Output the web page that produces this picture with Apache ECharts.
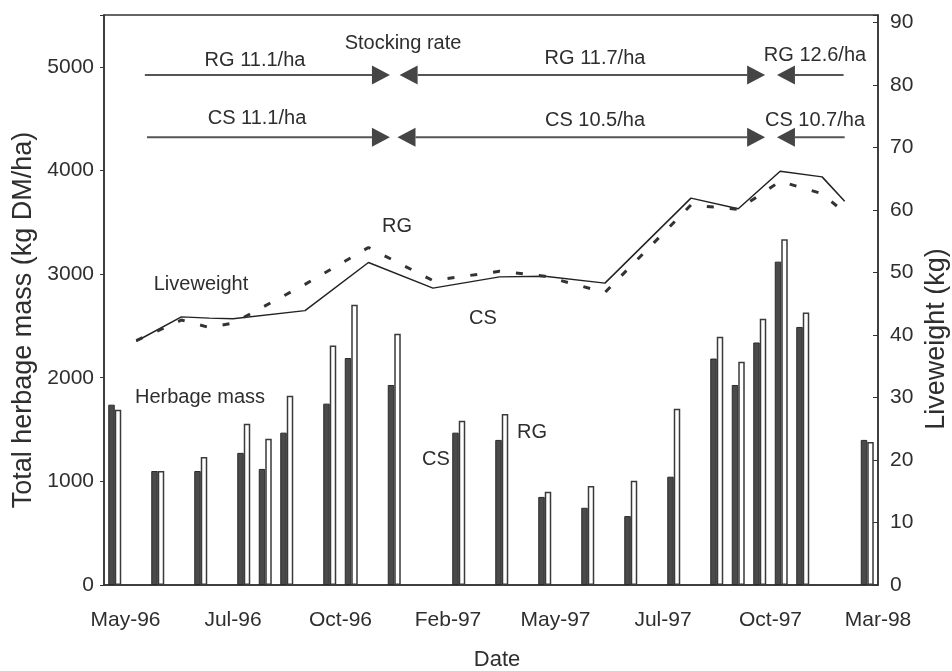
<!DOCTYPE html>
<html><head><meta charset="utf-8">
<script src="https://cdn.jsdelivr.net/npm/echarts@6/dist/echarts.min.js"></script>
<style>html,body{margin:0;padding:0;background:#fff}#c{width:952px;height:671px}</style>
</head><body><div id="c"></div>
<script>
// x positions are in "sampling slot" units (36 slots across the date axis)
const xTickPositions = [1, 6, 11, 16, 21, 26, 31, 36];
const xTickLabels = ['May-96', 'Jul-96', 'Oct-96', 'Feb-97', 'May-97', 'Jul-97', 'Oct-97', 'Mar-98'];

// Herbage mass (kg DM/ha) bars
const barSlots   = [0.5, 2.5, 4.5, 6.5, 7.5, 8.5, 10.5, 11.5, 13.5, 16.5, 18.5, 20.5, 22.5, 24.5, 26.5, 28.5, 29.5, 30.5, 31.5, 32.5, 35.5];
const herbageCS  = [1740, 1100, 1100, 1275, 1120, 1470, 1750, 2190, 1930, 1470, 1400, 850, 745, 665, 1045, 2185, 1930, 2340, 3120, 2490, 1400];
const herbageRG  = [1690, 1100, 1235, 1555, 1410, 1825, 2310, 2705, 2425, 1585, 1650, 900, 955, 1005, 1700, 2395, 2155, 2570, 3335, 2630, 1380];

// Liveweight (kg)
const lwDates      = [1.5, 3.6, 4.9, 6.0, 9.35, 12.3, 15.3, 18.4, 20.5, 23.3, 27.3, 29.5, 31.45, 33.4, 34.45];
const liveweightCS = [39.0, 42.9, 42.7, 42.6, 43.9, 51.6, 47.5, 49.3, 49.4, 48.3, 61.9, 60.2, 66.2, 65.3, 61.4];
const liveweightRG = [39.1, 42.4, 41.2, 41.9, 48.1, 54.0, 48.7, 50.2, 49.4, 46.8, 60.8, 60.1, 64.6, 62.6, 59.6];

// Stocking-rate periods: [start, end, arrowhead at start, arrowhead at end]
const periodsRG = [[1.9, 13.3, 0, 1], [13.75, 30.75, 1, 1], [31.3, 34.4, 1, 0]];
const periodsCS = [[2.0, 13.3, 0, 1], [13.65, 30.75, 1, 1], [31.3, 34.45, 1, 0]];
const rowRG = 4920, rowCS = 4320;

const FONT = '"Liberation Sans", Arial, sans-serif';
const TXT = '#2e2e2e';

function pairs(xs, ys) { return xs.map((x, i) => [x, ys[i]]); }

const arrowData = periodsRG.map(p => [p[0], p[1], rowRG, p[2], p[3]])
  .concat(periodsCS.map(p => [p[0], p[1], rowCS, p[2], p[3]]));

function txt(text, x, y, size, rot) {
  return {
    type: 'text', x: x, y: y, rotation: rot || 0, z: 100,
    style: { text: text, font: size + 'px ' + FONT, fill: TXT,
      align: 'center', verticalAlign: 'middle', textAlign: 'center', textVerticalAlign: 'middle' }
  };
}

const chart = echarts.init(document.getElementById('c'), null, { renderer: 'canvas' });
chart.setOption({
  animation: false,
  backgroundColor: '#fff',
  grid: { left: 104, right: 74, top: 15, bottom: 86, show: true, borderColor: '#333', borderWidth: 1.5, backgroundColor: 'transparent' },
  xAxis: {
    type: 'value', min: 0, max: 36, interval: 1,
    axisLine: { show: true, lineStyle: { color: '#333', width: 1.5 } },
    axisTick: { show: false },
    splitLine: { show: false },
    axisLabel: {
      customValues: xTickPositions,
      margin: 25, fontSize: 21, fontFamily: FONT, color: TXT,
      formatter: v => { const i = xTickPositions.indexOf(v); return i >= 0 ? xTickLabels[i] : ''; }
    }
  },
  yAxis: [
    {
      type: 'value', min: 0, max: 5500, interval: 1000,
      axisLine: { show: true, lineStyle: { color: '#333', width: 1.5 } },
      axisTick: { show: true, inside: false, length: 4, lineStyle: { color: '#333' } },
      splitLine: { show: false },
      axisLabel: { margin: 10, fontSize: 21, fontFamily: FONT, color: TXT,
        formatter: v => (v % 1000 === 0 ? String(v) : '') }
    },
    {
      type: 'value', min: 0, max: 91.2, interval: 10, position: 'right',
      axisLine: { show: true, lineStyle: { color: '#333', width: 1.5 } },
      axisTick: { show: true, inside: true, length: 5, lineStyle: { color: '#333' } },
      splitLine: { show: false },
      axisLabel: { margin: 12, fontSize: 21, fontFamily: FONT, color: TXT,
        formatter: v => (Math.abs(v % 10) < 1e-9 ? String(v) : '') }
    }
  ],
  series: [
    {
      name: 'CS herbage', type: 'bar', xAxisIndex: 0, yAxisIndex: 0,
      data: pairs(barSlots, herbageCS), barWidth: 6.5, barGap: '0%',
      itemStyle: { color: '#4a4a4a', borderColor: '#2a2a2a', borderWidth: 1 }
    },
    {
      name: 'RG herbage', type: 'bar', xAxisIndex: 0, yAxisIndex: 0,
      data: pairs(barSlots, herbageRG), barWidth: 6.5, barGap: '0%',
      itemStyle: { color: '#ffffff', borderColor: '#3a3a3a', borderWidth: 1.5 }
    },
    {
      name: 'CS liveweight', type: 'line', yAxisIndex: 1,
      data: pairs(lwDates, liveweightCS), showSymbol: false, symbol: 'none',
      lineStyle: { color: '#222', width: 1.5 }, z: 5
    },
    {
      name: 'RG liveweight', type: 'line', yAxisIndex: 1,
      data: pairs(lwDates, liveweightRG), showSymbol: false, symbol: 'none',
      lineStyle: { color: '#333', width: 3, type: [7, 16] }, z: 5
    },
    {
      name: 'Stocking rate', type: 'custom', yAxisIndex: 0,
      encode: { x: [0, 1], y: 2 },
      data: arrowData,
      renderItem: function (params, api) {
        const x0 = api.value(0), x1 = api.value(1), y = api.value(2);
        const hs = api.value(3), he = api.value(4);
        const p0 = api.coord([x0, y]), p1 = api.coord([x1, y]);
        const L = 18, H = 9.5;
        const a = hs ? p0[0] + L : p0[0];
        const b = he ? p1[0] - L : p1[0];
        const children = [{ type: 'line', shape: { x1: a, y1: p0[1], x2: b, y2: p1[1] },
          style: { stroke: '#555', lineWidth: 2 } }];
        if (hs) children.push({ type: 'polygon',
          shape: { points: [[p0[0], p0[1]], [p0[0] + L, p0[1] - H], [p0[0] + L, p0[1] + H]] },
          style: { fill: '#454545' } });
        if (he) children.push({ type: 'polygon',
          shape: { points: [[p1[0], p1[1]], [p1[0] - L, p1[1] - H], [p1[0] - L, p1[1] + H]] },
          style: { fill: '#454545' } });
        return { type: 'group', children: children };
      },
      z: 6
    }
  ],
  graphic: [
    txt('Total herbage mass (kg DM/ha)', 24, 320, 27, Math.PI / 2),
    txt('Liveweight (kg)', 937, 339, 27, Math.PI / 2),
    txt('Date', 497, 660, 22),
    txt('Stocking rate', 403, 43, 20),
    txt('RG 11.1/ha', 255, 60, 20),
    txt('CS 11.1/ha', 257, 118, 20),
    txt('RG 11.7/ha', 595, 58, 20),
    txt('CS 10.5/ha', 595, 120, 20),
    txt('RG 12.6/ha', 815, 55, 20),
    txt('CS 10.7/ha', 815, 120, 20),
    txt('RG', 397, 226, 20),
    txt('CS', 483, 318, 20),
    txt('Liveweight', 201, 284, 20),
    txt('Herbage mass', 200, 397, 20),
    txt('CS', 436, 459, 20),
    txt('RG', 532, 432, 20)
  ]
});
</script>
</body></html>
